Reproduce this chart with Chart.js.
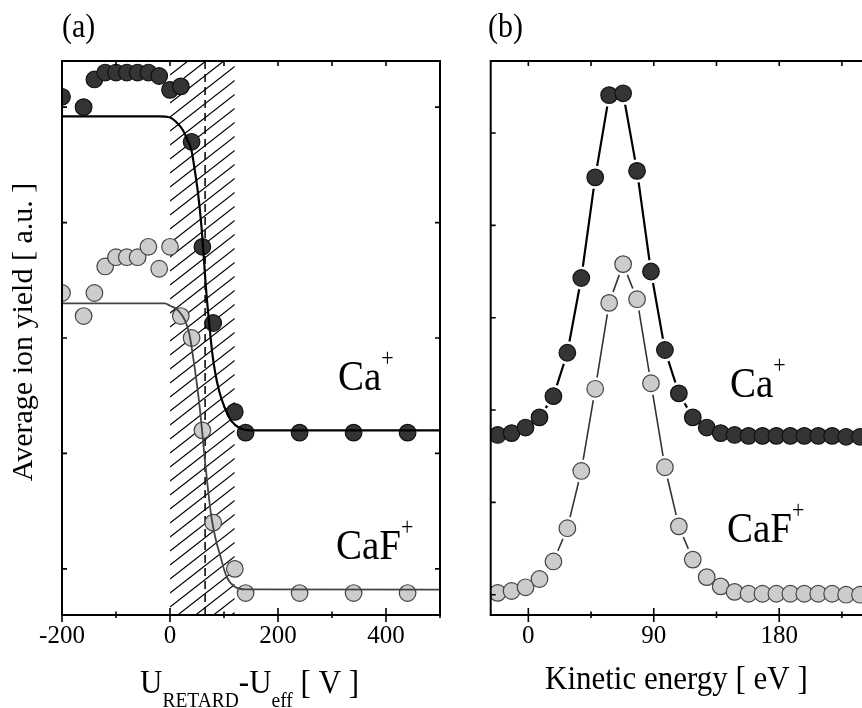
<!DOCTYPE html>
<html>
<head>
<meta charset="utf-8">
<script src="https://cdn.jsdelivr.net/npm/chart.js@4/dist/chart.umd.min.js"></script>
<style>
  html, body { margin: 0; padding: 0; background: #fff; overflow: hidden; width: 862px; height: 708px; }
  #wrap { position: relative; width: 862px; height: 708px; overflow: hidden; background: #fff; }
  canvas { position: absolute; top: 0; }
  #retard { left: 0; }
  #kinetic { left: 450px; }
</style>
</head>
<body>
<div id="wrap">
  <canvas id="retard" width="450" height="708"></canvas>
  <canvas id="kinetic" width="430" height="708"></canvas>
</div>
<script>
// ---- (a) ion yield versus retarding voltage ----
const retardVoltage   = [-200, -160, -140, -120, -100, -80, -60, -40, -20, 0, 20, 40, 60, 80, 120, 140, 240, 340, 440];
const caYieldRetard   = [5.09, 5.00, 5.24, 5.30, 5.30, 5.30, 5.30, 5.30, 5.27, 5.15, 5.18, 4.70, 3.79, 3.13, 2.36, 2.18, 2.18, 2.18, 2.18];
const cafYieldRetard  = [3.39, 3.19, 3.39, 3.62, 3.70, 3.70, 3.70, 3.79, 3.60, 3.79, 3.19, 3.00, 2.20, 1.40, 1.00, 0.79, 0.79, 0.79, 0.79];

// fitted step curves
const caFitVoltage  = [-200, -20, 0, 12, 24, 32, 40, 46, 52, 58, 62, 66, 70, 74, 78, 83, 91, 101, 114, 129, 148, 500];
const caFitYield    = [4.92, 4.92, 4.91, 4.87, 4.80, 4.72, 4.62, 4.45, 4.25, 3.98, 3.74, 3.47, 3.25, 3.06, 2.88, 2.72, 2.54, 2.40, 2.28, 2.22, 2.20, 2.20];
const cafFitVoltage = [-200, -10, 0, 15, 28, 36, 42, 49, 55, 60, 64, 71, 77, 85, 92, 105, 120, 140, 500];
const cafFitYield   = [3.30, 3.30, 3.28, 3.24, 3.15, 3.03, 2.86, 2.63, 2.40, 2.17, 1.97, 1.66, 1.44, 1.25, 1.13, 0.93, 0.845, 0.822, 0.82];

const retardTicks  = [-200, -100, 0, 100, 200, 300, 400, 500];
const retardLabels = ['-200', '', '0', '', '200', '', '400', ''];
const yieldTicksA  = [1, 2, 3, 4, 5];

// ---- (b) kinetic energy distribution ----
const kineticEnergy   = [-22, -12, -2, 8, 18, 28, 38, 48, 58, 68, 78, 88, 98, 108, 118, 128, 138, 148, 158, 168, 178, 188, 198, 208, 218, 228, 238];
const caYieldKinetic  = [2.73, 2.75, 2.81, 2.92, 3.15, 3.62, 4.43, 5.52, 6.41, 6.43, 5.59, 4.50, 3.65, 3.18, 2.92, 2.81, 2.75, 2.73, 2.72, 2.72, 2.72, 2.72, 2.72, 2.72, 2.72, 2.71, 2.71];
const cafYieldKinetic = [1.02, 1.04, 1.08, 1.17, 1.36, 1.72, 2.34, 3.23, 4.16, 4.58, 4.20, 3.29, 2.38, 1.74, 1.38, 1.19, 1.09, 1.03, 1.01, 1.01, 1.01, 1.01, 1.01, 1.01, 1.01, 1.00, 1.00];

const energyTicks  = [0, 45, 90, 135, 180, 225];
const energyLabels = ['0', '', '90', '', '180', ''];
const yieldTicksB  = [1, 2, 3, 4, 5, 6];

const SERIF = "'Liberation Serif', 'Times New Roman', serif";
const TEXT_STRETCH = 1.1;   // slightly tall lettering for the annotations
const pts = (xs, ys) => xs.map((x, i) => ({ x, y: ys[i] }));

// hatched window of the retarding field plus the dashed centre line
const bandPlugin = {
  id: 'band',
  beforeDatasetsDraw(chart, args, o) {
    const { ctx, chartArea: a, scales: { x } } = chart;
    const x0 = x.getPixelForValue(o.from), x1 = x.getPixelForValue(o.to);
    const rise = (x1 - x0) * o.slope;
    ctx.save();
    ctx.beginPath();
    ctx.rect(x0, a.top, x1 - x0, a.bottom - a.top);
    ctx.clip();
    ctx.strokeStyle = '#000';
    ctx.lineWidth = 1.2;
    ctx.beginPath();
    for (let y = a.top; y < a.bottom + rise + o.spacing; y += o.spacing) {
      ctx.moveTo(x0, y);
      ctx.lineTo(x1, y - rise);
    }
    ctx.stroke();
    ctx.restore();

    const xm = x.getPixelForValue(o.marker);
    ctx.save();
    ctx.strokeStyle = '#000';
    ctx.lineWidth = 1.5;
    ctx.setLineDash([8, 5]);
    ctx.beginPath();
    ctx.moveTo(xm, a.top);
    ctx.lineTo(xm, a.bottom);
    ctx.stroke();
    ctx.restore();
  }
};

// box frame with inward/crossing tick marks
const framePlugin = {
  id: 'frame',
  afterDraw(chart, args, o) {
    const { ctx, chartArea: a, scales: { x, y } } = chart;
    ctx.save();
    ctx.strokeStyle = '#000';
    ctx.lineWidth = 1.6;
    ctx.beginPath();
    x.ticks.forEach(t => {
      const px = x.getPixelForValue(t.value);
      const major = t.label !== '';
      ctx.moveTo(px, a.bottom - (major ? 7 : 3.5));
      ctx.lineTo(px, a.bottom + (major ? 7 : 3));
      ctx.moveTo(px, a.top);
      ctx.lineTo(px, a.top + 5);
    });
    y.ticks.forEach(t => {
      const py = y.getPixelForValue(t.value);
      ctx.moveTo(a.left, py);
      ctx.lineTo(a.left + 5, py);
      if (o.right) {
        ctx.moveTo(a.right - 5, py);
        ctx.lineTo(a.right, py);
      }
    });
    ctx.stroke();
    ctx.lineWidth = 2;
    ctx.strokeRect(a.left, a.top, a.right - a.left, a.bottom - a.top);
    ctx.restore();
  }
};

// text runs: labels, titles and sub/superscripts
function drawRuns(ctx, x, y, runs) {
  ctx.save();
  ctx.translate(x, y);
  ctx.scale(1, TEXT_STRETCH);
  let cx = 0;
  runs.forEach(r => {
    ctx.font = r.size + 'px ' + SERIF;
    ctx.fillText(r.t, cx, (r.dy || 0) / TEXT_STRETCH);
    cx += ctx.measureText(r.t).width;
  });
  ctx.restore();
}
const textPlugin = {
  id: 'annot',
  afterDraw(chart, args, o) {
    const ctx = chart.ctx;
    ctx.save();
    ctx.fillStyle = '#000';
    ctx.textBaseline = 'alphabetic';
    ctx.textAlign = 'left';
    o.items.forEach(it => drawRuns(ctx, it.x, it.y, it.runs));
    if (o.yTitle) {
      ctx.save();
      ctx.translate(o.yTitle.x, o.yTitle.y);
      ctx.rotate(-Math.PI / 2);
      ctx.textAlign = 'center';
      ctx.font = o.yTitle.size + 'px ' + SERIF;
      ctx.fillText(o.yTitle.t, 0, 0);
      ctx.restore();
    }
    ctx.restore();
  }
};

const plain = { display: false, drawTicks: false };

// ---------- panel (a) ----------
new Chart(document.getElementById('retard'), {
  type: 'scatter',
  data: {
    datasets: [
      { label: 'Ca+ fit', data: pts(caFitVoltage, caFitYield), showLine: true, pointRadius: 0,
        borderColor: '#000', borderWidth: 2.2, cubicInterpolationMode: 'monotone', clip: 0, order: 0 },
      { label: 'CaF+ fit', data: pts(cafFitVoltage, cafFitYield), showLine: true, pointRadius: 0,
        borderColor: '#444', borderWidth: 1.8, cubicInterpolationMode: 'monotone', clip: 0, order: 0 },
      { label: 'Ca+', data: pts(retardVoltage, caYieldRetard), pointRadius: 8.3,
        pointBackgroundColor: '#343434', pointBorderColor: '#111', pointBorderWidth: 1.2, clip: 0, order: 1 },
      { label: 'CaF+', data: pts(retardVoltage, cafYieldRetard), pointRadius: 8.3,
        pointBackgroundColor: '#cccccc', pointBorderColor: '#444', pointBorderWidth: 1.2, clip: 0, order: 1 }
    ]
  },
  options: {
    responsive: false, animation: false, events: [],
    layout: { padding: { left: 0, right: 10, top: 61, bottom: 0 } },
    plugins: {
      legend: { display: false }, tooltip: { enabled: false },
      band: { from: 0, to: 120, marker: 65, slope: 0.78, spacing: 14 },
      frame: { right: true },
      annot: {
        items: [
          { x: 62, y: 37, runs: [{ t: '(a)', size: 30 }] },
          { x: 338, y: 390, runs: [{ t: 'Ca', size: 39 }, { t: '+', size: 22, dy: -24 }] },
          { x: 336, y: 559, runs: [{ t: 'CaF', size: 39 }, { t: '+', size: 22, dy: -24 }] },
          { x: 140, y: 693, runs: [
            { t: 'U', size: 31 }, { t: 'RETARD', size: 19.5, dy: 14 },
            { t: '-U', size: 31 }, { t: 'eff', size: 19.5, dy: 14 }, { t: ' [ V ]', size: 31 } ] }
        ],
        yTitle: { t: 'Average ion yield [ a.u. ]', x: 32, y: 332, size: 30 }
      }
    },
    scales: {
      x: {
        type: 'linear', min: -200, max: 500,
        grid: plain, border: { display: false },
        afterBuildTicks: s => { s.ticks = retardTicks.map(v => ({ value: v })); },
        ticks: { callback: (v, i) => retardLabels[i], font: { family: SERIF, size: 25 }, color: '#000',
                 padding: 6.5, maxRotation: 0, autoSkip: false },
        afterFit: s => { s.height = 93; }
      },
      y: {
        type: 'linear', min: 0.6, max: 5.4,
        grid: plain, border: { display: false },
        afterBuildTicks: s => { s.ticks = yieldTicksA.map(v => ({ value: v })); },
        ticks: { display: false },
        afterFit: s => { s.width = 62; }
      }
    }
  },
  plugins: [bandPlugin, framePlugin, textPlugin]
});

// ---------- panel (b) ----------
new Chart(document.getElementById('kinetic'), {
  type: 'scatter',
  data: {
    datasets: [
      { label: 'Ca+ line', data: pts(kineticEnergy, caYieldKinetic), showLine: true, pointRadius: 0,
        borderColor: '#000', borderWidth: 2.2, clip: 0, order: 5 },
      { label: 'CaF+ line', data: pts(kineticEnergy, cafYieldKinetic), showLine: true, pointRadius: 0,
        borderColor: '#333', borderWidth: 1.6, clip: 0, order: 5 },
      { label: 'Ca+ gap', data: pts(kineticEnergy, caYieldKinetic), pointRadius: 11.5,
        pointBackgroundColor: '#fff', pointBorderWidth: 0, pointBorderColor: '#fff', clip: 0, order: 4 },
      { label: 'CaF+ gap', data: pts(kineticEnergy, cafYieldKinetic), pointRadius: 11.5,
        pointBackgroundColor: '#fff', pointBorderWidth: 0, pointBorderColor: '#fff', clip: 0, order: 4 },
      { label: 'CaF+', data: pts(kineticEnergy, cafYieldKinetic), pointRadius: 8.3,
        pointBackgroundColor: '#cccccc', pointBorderColor: '#444', pointBorderWidth: 1.2, clip: 0, order: 2 },
      { label: 'Ca+', data: pts(kineticEnergy, caYieldKinetic), pointRadius: 8.3,
        pointBackgroundColor: '#343434', pointBorderColor: '#111', pointBorderWidth: 1.2, clip: 0, order: 1 }
    ]
  },
  options: {
    responsive: false, animation: false, events: [],
    layout: { padding: { left: 0, right: 13, top: 61, bottom: 0 } },
    plugins: {
      legend: { display: false }, tooltip: { enabled: false },
      frame: { right: false },
      annot: {
        items: [
          { x: 38, y: 37, runs: [{ t: '(b)', size: 30 }] },
          { x: 280, y: 397, runs: [{ t: 'Ca', size: 39 }, { t: '+', size: 22, dy: -24 }] },
          { x: 277, y: 542, runs: [{ t: 'CaF', size: 39 }, { t: '+', size: 22, dy: -24 }] },
          { x: 95, y: 689, runs: [{ t: 'Kinetic energy [ eV ]', size: 31 }] }
        ]
      }
    },
    scales: {
      x: {
        type: 'linear', min: -27, max: 243,
        grid: plain, border: { display: false },
        afterBuildTicks: s => { s.ticks = energyTicks.map(v => ({ value: v })); },
        ticks: { callback: (v, i) => energyLabels[i], font: { family: SERIF, size: 25 }, color: '#000',
                 padding: 6.5, maxRotation: 0, autoSkip: false },
        afterFit: s => { s.height = 93; }
      },
      y: {
        type: 'linear', min: 0.78, max: 6.78,
        grid: plain, border: { display: false },
        afterBuildTicks: s => { s.ticks = yieldTicksB.map(v => ({ value: v })); },
        ticks: { display: false },
        afterFit: s => { s.width = 40.7; }
      }
    }
  },
  plugins: [framePlugin, textPlugin]
});
</script>
</body>
</html>
